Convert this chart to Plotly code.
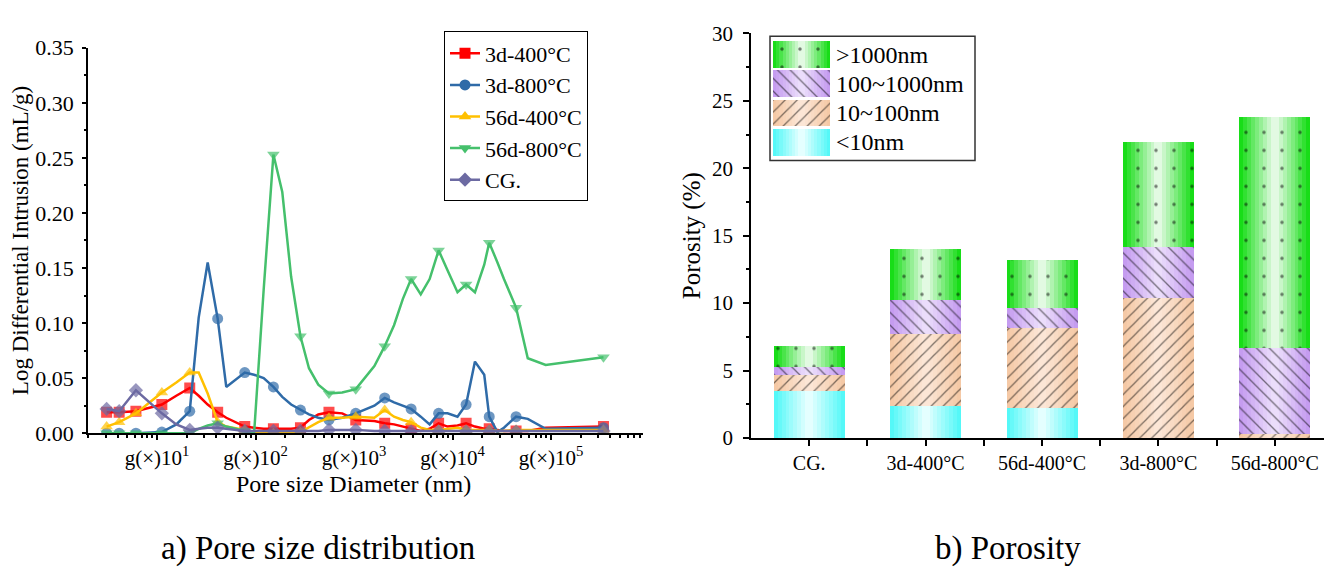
import numpy as np
import plotly.graph_objects as go

FONT = "Liberation Serif, Times New Roman, serif"
W, H = 1332, 574

# ---------------- a) Pore size distribution ----------------
diameter_nm = [3.08, 4.13, 6.11, 11.2, 15.7, 21.5, 26.5, 32.7, 41.3, 50.5, 77.8, 96.8,
               121, 152, 187, 230, 286, 349, 434, 557, 759, 1042, 1610, 2050, 2550,
               3135, 3800, 4760, 5860, 7230, 8900, 11240, 13740, 16900, 21000, 23600,
               28600, 33300, 44200, 58100, 88300, 341000]
marker_points = [0, 1, 2, 3, 5, 8, 10, 13, 16, 19, 21, 23, 26, 29, 32, 35, 38, 41]

intr_3d_400 = [0.019, 0.019, 0.020, 0.026, 0.034, 0.041, 0.034, 0.026, 0.019, 0.014, 0.006, 0.005,
               0.004, 0.004, 0.004, 0.004, 0.005, 0.012, 0.017, 0.019, 0.018, 0.012, 0.011, 0.009,
               0.008, 0.006, 0.004, 0.002, 0.004, 0.009, 0.006, 0.007, 0.009, 0.006, 0.004, 0.004,
               0.003, 0.002, 0.002, 0.002, 0.005, 0.006]
intr_3d_800 = [0.0, 0.0, 0.0, 0.001, 0.008, 0.020, 0.105, 0.155, 0.104, 0.042, 0.055, 0.053,
               0.050, 0.042, 0.033, 0.026, 0.021, 0.017, 0.014, 0.012, 0.014, 0.018, 0.025, 0.032,
               0.028, 0.025, 0.022, 0.015, 0.008, 0.018, 0.018, 0.015, 0.026, 0.065, 0.053, 0.015,
               0.001, 0.005, 0.015, 0.013, 0.004, 0.005]
intr_56d_400 = [0.006, 0.010, 0.018, 0.037, 0.046, 0.055, 0.055, 0.036, 0.010, 0.006, 0.003, 0.001,
                0.0, 0.0, 0.0, 0.0, 0.001, 0.005, 0.010, 0.014, 0.014, 0.015, 0.014, 0.021,
                0.015, 0.012, 0.010, 0.005, 0.003, 0.003, 0.004, 0.005, 0.003, 0.003, 0.003, 0.003,
                0.002, 0.002, 0.003, 0.003, 0.003, 0.003]
intr_56d_800 = [0.0, 0.0, 0.0, 0.0, 0.0, 0.0, 0.004, 0.007, 0.009, 0.006, 0.002, 0.0,
                0.13, 0.253, 0.219, 0.142, 0.088, 0.059, 0.044, 0.036, 0.037, 0.040, 0.061, 0.079,
                0.098, 0.122, 0.140, 0.126, 0.140, 0.166, 0.148, 0.128, 0.135, 0.128, 0.153, 0.173,
                0.155, 0.140, 0.114, 0.068, 0.062, 0.069]
intr_cg = [0.022, 0.020, 0.039, 0.018, 0.008, 0.003, 0.004, 0.005, 0.005, 0.004, 0.002, 0.002,
           0.002, 0.002, 0.002, 0.002, 0.002, 0.002, 0.002, 0.003, 0.003, 0.003, 0.002, 0.002,
           0.002, 0.0015, 0.0015, 0.0015, 0.0015, 0.0015, 0.0015, 0.0015, 0.0015, 0.0015, 0.0015, 0.0015,
           0.0015, 0.0015, 0.0015, 0.002, 0.002, 0.002]

series_names = ["3d-400°C", "3d-800°C", "56d-400°C", "56d-800°C", "CG."]
series_values = [intr_3d_400, intr_3d_800, intr_56d_400, intr_56d_800, intr_cg]
series_colors = ["#FF0000", "#2F6BA8", "#FFC000", "#45C06C", "#6C6AA2"]
series_symbols = ["square", "circle", "triangle-up", "triangle-down", "diamond"]

decade_ticks = [10, 100, 1000, 10000, 100000]
decade_labels = ["g(×)10<sup>1</sup>", "g(×)10<sup>2</sup>", "g(×)10<sup>3</sup>",
                 "g(×)10<sup>4</sup>", "g(×)10<sup>5</sup>"]

# ---------------- b) Porosity ----------------
samples = ["CG.", "3d-400°C", "56d-400°C", "3d-800°C", "56d-800°C"]
por_lt10 = [3.48, 2.37, 2.18, 0.0, 0.0]
por_10_100 = [1.18, 5.34, 5.96, 10.34, 0.24]
por_100_1000 = [0.59, 2.49, 1.44, 3.78, 6.43]
por_gt1000 = [1.54, 3.76, 3.60, 7.78, 17.08]
range_names = ["<10nm", "10~100nm", "100~1000nm", ">1000nm"]

fig = go.Figure()

# ---- left panel traces ----
msize = 11
for name, vals, col, sym in zip(series_names, series_values, series_colors, series_symbols):
    sizes = [msize if i in marker_points else 0 for i in range(len(diameter_nm))]
    fig.add_trace(go.Scatter(
        x=diameter_nm, y=vals, mode="lines+markers", name=name, showlegend=False,
        line=dict(color=col, width=2.5),
        marker=dict(color=col, symbol=sym, size=sizes, line=dict(width=0)),
        xaxis="x", yaxis="y", hoverinfo="skip"))
for name, col, sym in zip(series_names, series_colors, series_symbols):
    fig.add_trace(go.Scatter(
        x=[None], y=[None], mode="lines+markers", name=name, showlegend=True,
        line=dict(color=col, width=2.5),
        marker=dict(color=col, symbol=sym, size=msize, line=dict(width=0)),
        xaxis="x", yaxis="y"))


# ---- right panel: gradient + patterned stacked bars ----
def hex2rgb(h):
    h = h.lstrip("#")
    return tuple(int(h[i:i + 2], 16) for i in (0, 2, 4))


def blend(c1, c2, t):
    a, b = hex2rgb(c1), hex2rgb(c2)
    return "rgb(%d,%d,%d)" % tuple(round(a[i] + (b[i] - a[i]) * t) for i in range(3))


seg_styles = {
    "<10nm": dict(edge="#55F8F8", center="#E4FFFF", shape="", size=10, sol=0.1),
    "10~100nm": dict(edge="#F5C9A6", center="#FCE6D6", shape="/", size=8.5, sol=0.15),
    "100~1000nm": dict(edge="#C59CF0", center="#EBDDFB", shape="\\", size=9, sol=0.15),
    ">1000nm": dict(edge="#18DD18", center="#E2FAE2", shape=".", size=18, sol=0.03),
}


def add_segment(x, base, height, style, width, xa, ya, n=9):
    for k in range(n):
        t = k / (n - 1)
        fig.add_trace(go.Bar(
            x=x, y=height, base=base, width=width * (1 - k / n),
            marker=dict(color=blend(style["edge"], style["center"], t), line=dict(width=0)),
            xaxis=xa, yaxis=ya, showlegend=False, hoverinfo="skip"))
    if style["shape"]:
        fig.add_trace(go.Bar(
            x=x, y=height, base=base, width=width,
            marker=dict(color="rgba(0,0,0,0)", line=dict(width=0),
                        pattern=dict(shape=style["shape"], fgcolor="black",
                                     bgcolor="rgba(0,0,0,0)", size=style["size"],
                                     solidity=style["sol"], fillmode="overlay")),
            xaxis=xa, yaxis=ya, showlegend=False, hoverinfo="skip"))


xpos = list(range(len(samples)))
segments = [por_lt10, por_10_100, por_100_1000, por_gt1000]
bases = np.cumsum([[0.0] * len(samples)] + segments[:-1], axis=0)
for rname, seg, base in zip(range_names, segments, bases):
    add_segment(xpos, list(base), seg, seg_styles[rname], 0.61, "x2", "y2")

# legend for panel b (drawn as swatches on a small hidden axis)
for i, rname in enumerate(range_names):
    add_segment([0], [i + 0.04], [0.92], seg_styles[rname], 1.0, "x3", "y3")
    fig.add_annotation(x=826 / W, xref="paper", y=i + 0.5, yref="y3", text=rname,
                       showarrow=False, xanchor="left", yanchor="middle",
                       font=dict(family=FONT, size=24, color="black"))
fig.add_shape(type="rect", xref="paper", yref="paper",
              x0=762 / W, x1=967 / W, y0=1 - 147 / H, y1=1 - 17 / H,
              line=dict(color="#333333", width=1.5), fillcolor="rgba(0,0,0,0)")

axis_common = dict(showline=True, linecolor="black", linewidth=1.5, showgrid=False,
                   zeroline=False, ticks="outside", tickcolor="black", tickwidth=1.5,
                   tickfont=dict(family=FONT, size=21, color="black"), mirror=False)

minor_log = [m * 10 ** e for e in range(0, 6) for m in range(2, 10) if 2 <= m * 10 ** e <= 8.6e5]

fig.update_layout(
    width=W, height=H, margin=dict(l=0, r=0, t=0, b=0),
    paper_bgcolor="white", plot_bgcolor="white", barmode="overlay", bargap=0,
    font=dict(family=FONT, color="black"),
    xaxis=dict(axis_common, type="log", range=[0.2995, 5.934], domain=[80 / W, 635 / W],
               anchor="y", tickvals=decade_ticks, ticktext=decade_labels, ticklen=5,
               minor=dict(tickvals=minor_log, ticks="outside", ticklen=3, tickcolor="black")),
    yaxis=dict(axis_common, range=[0, 0.35], domain=[1 - 432 / H, 1 - 29 / H], anchor="x",
               dtick=0.05, tickformat=".2f", ticklen=4, ticklabelstandoff=4,
               tickfont=dict(family=FONT, size=22, color="black"),
               minor=dict(dtick=0.025, ticks="outside", ticklen=2.5, tickcolor="black"),
               title=dict(text="Log Differential Intrusion (mL/g)", font=dict(family=FONT, size=23), standoff=1)),
    xaxis2=dict(axis_common, range=[-0.5, 4.5], domain=[743 / W, 1325 / W], anchor="y2",
                tickvals=xpos, ticktext=samples, ticklen=6,
                tickfont=dict(family=FONT, size=20, color="black"),
                minor=dict(tickvals=[p + 0.5 for p in xpos[:-1]], ticks="outside", ticklen=6,
                           tickcolor="black")),
    yaxis2=dict(axis_common, range=[0, 30], domain=[1 - 437 / H, 1 - 14 / H], anchor="x2",
                dtick=5, ticklen=6, ticklabelstandoff=6,
                minor=dict(dtick=2.5, ticks="outside", ticklen=3, tickcolor="black"),
                title=dict(text="Porosity (%)", font=dict(family=FONT, size=25), standoff=4)),
    xaxis3=dict(range=[-0.5, 0.5], domain=[765 / W, 822 / W], anchor="y3", visible=False,
                fixedrange=True),
    yaxis3=dict(range=[0, 4], domain=[1 - 143 / H, 1 - 21 / H], anchor="x3", visible=False,
                fixedrange=True),
    legend=dict(x=436 / W, xanchor="left", y=1 - 12 / H, yanchor="top",
                bordercolor="black", borderwidth=1, bgcolor="white",
                font=dict(family=FONT, size=22, color="black"), tracegroupgap=0),
)

fig.add_annotation(x=345 / W, y=1 - 485 / H, xref="paper", yref="paper", text="Pore size Diameter (nm)",
                   showarrow=False, xanchor="center", yanchor="middle",
                   font=dict(family=FONT, size=24, color="black"))
fig.add_annotation(x=310 / W, y=1 - 553 / H, xref="paper", yref="paper", text="a) Pore size distribution",
                   showarrow=False, xanchor="center", yanchor="middle",
                   font=dict(family=FONT, size=33, color="black"))
fig.add_annotation(x=1000 / W, y=1 - 553 / H, xref="paper", yref="paper", text="b) Porosity",
                   showarrow=False, xanchor="center", yanchor="middle",
                   font=dict(family=FONT, size=33, color="black"))

fig.write_html("out.html")
